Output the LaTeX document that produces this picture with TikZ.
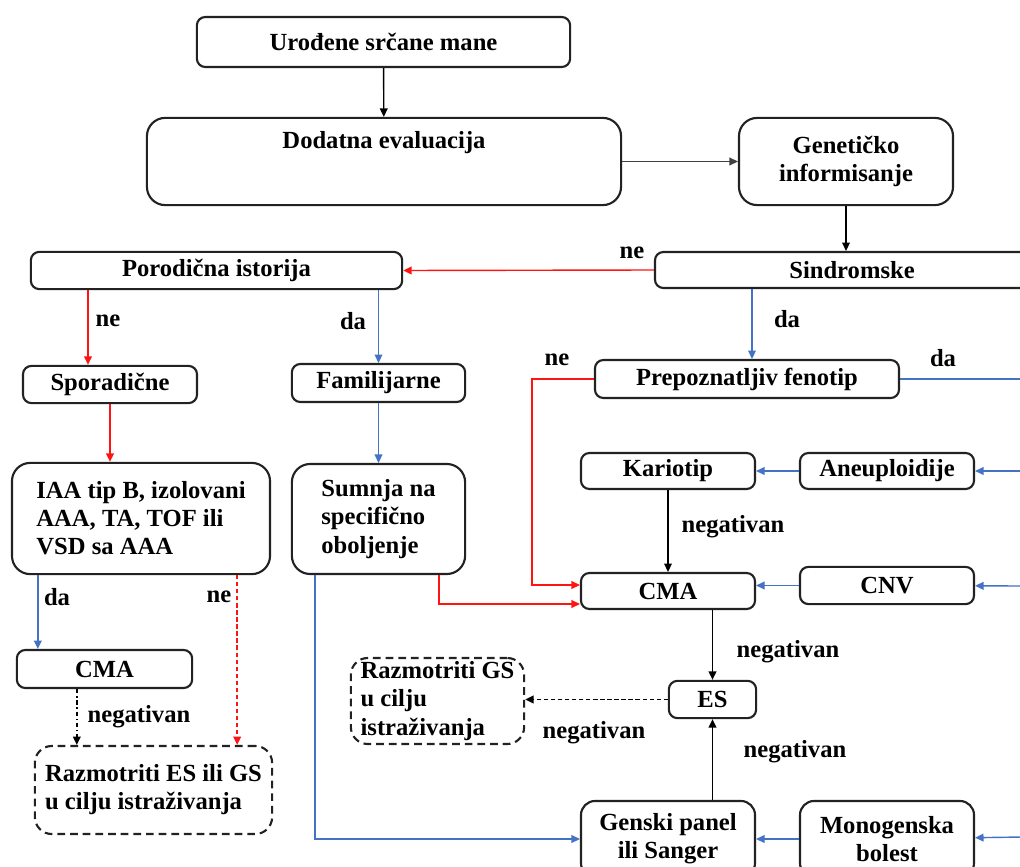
\documentclass[tikz,border=0pt]{standalone}
\usepackage{fontspec}
\setmainfont{Liberation Serif}
\usetikzlibrary{arrows.meta}
\definecolor{linkblue}{RGB}{68,114,196}
\definecolor{linkred}{RGB}{255,20,20}
\definecolor{boxline}{RGB}{34,34,34}

\begin{document}
\begin{tikzpicture}
  [x=0.025cm,y=-0.025cm,
   every node/.style={font=\fontsize{17.5}{20}\selectfont\bfseries},
   box/.style={draw=boxline,line width=1.5pt,rounded corners=6pt,inner sep=0pt,align=center},
   bigbox/.style={box,rounded corners=13pt,align=left},
   dashbox/.style={box,rounded corners=12pt,align=left,dash pattern=on 5.5pt off 3.5pt},
   arr/.style={-{Triangle[length=6pt,width=5.5pt]},line width=1pt},
   blkarr/.style={arr,black},
   nearr/.style={arr,linkred},
   daarr/.style={arr,linkblue}]

  \fill[white] (0,0) rectangle (1020,867);
  \useasboundingbox (0,0) rectangle (1020,867);
  \clip (0,0) rectangle (1020,867);

  % left branch
  \node[box,minimum width=9.33cm,minimum height=1.25cm] (uro) at (383.5,42) {Urođene srčane mane};
  \node[box,rounded corners=13pt,minimum width=11.85cm,minimum height=2.18cm] (dod) at (384,161.5) {Dodatna evaluacija\\[5pt]\strut};
  \node[box,rounded corners=13pt,minimum width=5.35cm,minimum height=2.18cm] (gen) at (846,161.5) {Genetičko\\informisanje};
  \node[box,minimum width=9.85cm,minimum height=0.9cm] (sin) at (852,270) {Sindromske};
  \node[box,minimum width=9.28cm,minimum height=0.93cm] (por) at (216.5,270.5) {Porodična istorija};
  \node[box,minimum width=4.35cm,minimum height=0.93cm] (spo) at (110,384.5) {Sporadične};
  \node[box,minimum width=4.33cm,minimum height=0.95cm] (fam) at (378.5,383) {Familijarne};
  \node[bigbox,minimum width=6.45cm,minimum height=2.78cm] (iaa) at (141,518.5) {IAA tip B, izolovani\\AAA, TA, TOF ili\\VSD sa AAA};
  \node[bigbox,minimum width=4.33cm,minimum height=2.75cm] (sum) at (378.5,519) {Sumnja na\\specifično\\oboljenje};
  \node[box,minimum width=4.38cm,minimum height=0.95cm] (cmaA) at (104.5,669) {CMA};
  \node[dashbox,minimum width=5.93cm,minimum height=2.2cm] (resA) at (153.5,790) {Razmotriti ES ili GS\\u cilju istraživanja};

  % syndromic branch
  \node[box,minimum width=7.6cm,minimum height=0.95cm] (pre) at (747,379) {Prepoznatljiv fenotip};
  \node[box,minimum width=4.35cm,minimum height=0.9cm] (kar) at (668,471) {Kariotip};
  \node[box,minimum width=4.35cm,minimum height=0.9cm] (ane) at (887,471) {Aneuploidije};
  \node[box,minimum width=4.35cm,minimum height=0.9cm] (cmaB) at (668,591) {CMA};
  \node[box,minimum width=4.35cm,minimum height=0.93cm] (cnv) at (887,585.5) {CNV};
  \node[box,minimum width=2.18cm,minimum height=0.93cm] (es) at (712.5,699.5) {ES};
  \node[dashbox,minimum width=4.33cm,minimum height=2.15cm] (resB) at (437.5,701) {Razmotriti GS\\u cilju\\istraživanja};
  \node[box,rounded corners=10pt,minimum width=4.35cm,minimum height=1.9cm] (gp) at (668,839) {Genski panel\\ili Sanger};
  \node[box,rounded corners=10pt,minimum width=4.35cm,minimum height=1.9cm] (mon) at (887,839) {Monogenska\\bolest};

  \coordinate (eP) at (1022,379);
  \coordinate (eA) at (1022,471);
  \coordinate (eC) at (1022,586);
  \coordinate (eM) at (1022,837);

  % labels
  \node (lNeSin) at (632,253) {ne};
  \node (lNePor) at (108,321) {ne};
  \node (lDaPor) at (353,321) {da};
  \node (lDaSin) at (787,319) {da};
  \node (lNePre) at (557,360) {ne};
  \node (lDaPre) at (943,358) {da};
  \node (lDaIaa) at (57,597) {da};
  \node (lNeIaa) at (219,597) {ne};
  \node (lNegA) at (139,717) {negativan};
  \node (lNegKar) at (733,527) {negativan};
  \node (lNegCma) at (788,652) {negativan};
  \node (lNegEs) at (594,733) {negativan};
  \node (lNegGp) at (795,752) {negativan};

  % connectors
  \draw[blkarr] (uro) -- (dod);
  \draw[blkarr,black!75] (dod.east) -- (gen.west);
  \draw[blkarr] (gen.south) -- (gen.south |- sin.north);
  \draw[nearr] (sin.west) -- (por.east);
  \draw[nearr] ([xshift=-0.55cm]spo.north |- por.south) -- ([xshift=-0.55cm]spo.north);
  \draw[daarr] (fam.north |- por.south) -- (fam.north);
  \draw[nearr] (spo.south) -- (spo.south |- iaa.north);
  \draw[daarr] (fam.south) -- (sum.north);
  \draw[daarr] ([xshift=0.55cm]cmaA.north west |- iaa.south) -- ([xshift=0.55cm]cmaA.north west);
  \draw[nearr,dash pattern=on 3pt off 2pt] ([xshift=-0.9cm]resA.north east |- iaa.south) -- ([xshift=-0.9cm]resA.north east);
  \draw[blkarr,dash dot] ([xshift=1.075cm]resA.north west |- cmaA.south) -- ([xshift=1.075cm]resA.north west);
  \draw[daarr] ([xshift=0.6cm]sum.south west) |- (gp.west);
  \draw[nearr] ([xshift=-0.675cm]sum.south east) |- ([yshift=-0.325cm]cmaB.west);
  \draw[nearr] (pre.west) -- ++(-62,0) |- ([yshift=0.15cm]cmaB.west);
  \draw[daarr] ([xshift=0.125cm]pre.north |- sin.south) -- ([xshift=0.125cm]pre.north);
  \draw[linkblue,line width=1pt] (pre.east) -- (eP);
  \foreach \from/\to in {eA/ane,ane/kar,eC/cnv,eM/mon,mon/gp}
    \draw[daarr] (\from) -- (\to);
  \draw[daarr] (cnv.west) -- (cnv.west -| cmaB.east);
  \draw[blkarr] (kar) -- (cmaB);
  \draw[blkarr] (es.north |- cmaB.south) -- (es.north);
  \draw[blkarr,dash pattern=on 3pt off 2pt] (es.west) -- (es.west -| resB.east);
  \draw[blkarr] (es.south |- gp.north) -- (es.south);

\end{tikzpicture}
\end{document}
